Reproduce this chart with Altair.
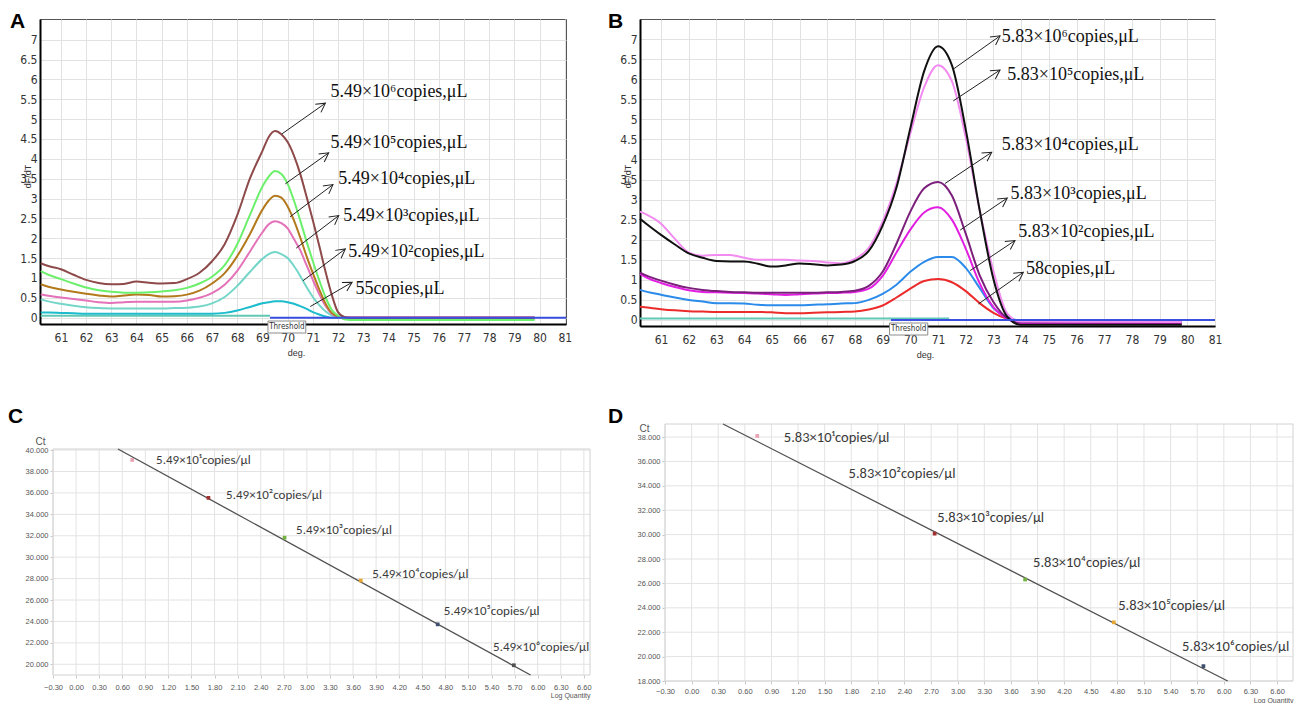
import math
import altair as alt
import pandas as pd

NARROW = "Liberation Sans Narrow, DejaVu Sans Condensed, Liberation Sans, sans-serif"
SANS = "Liberation Sans, Arial, sans-serif"
SERIF = "Liberation Serif, Times New Roman, serif"
CAL = "Carlito, Lato, sans-serif"

DEG_TICKS = list(range(61, 82))
DFDT_TICKS = [0, 0.5, 1, 1.5, 2, 2.5, 3, 3.5, 4, 4.5, 5, 5.5, 6, 6.5, 7]
LOGQ_TICKS = [-0.3, 0.0, 0.3, 0.6, 0.9, 1.2, 1.5, 1.8, 2.1, 2.4, 2.7, 3.0, 3.3, 3.6,
              3.9, 4.2, 4.5, 4.8, 5.1, 5.4, 5.7, 6.0, 6.3, 6.6]
CT_TICKS_C = [20, 22, 24, 26, 28, 30, 32, 34, 36, 38, 40]
CT_TICKS_D = [18, 20, 22, 24, 26, 28, 30, 32, 34, 36, 38]

# ---------------- Panel A : melt curves, 5.49 x 10^n standards ----------------
A_X = [60.2, 60.5, 61, 61.5, 62, 62.5, 63, 63.5, 64, 64.5, 65, 65.5, 66, 66.5, 67,
       67.5, 68, 68.5, 69, 69.25, 69.5, 69.75, 70, 70.25, 70.5, 70.75, 71, 71.25,
       71.5, 71.75, 72, 72.25, 72.5, 79.8]
A_E6 = [1.37, 1.30, 1.22, 1.08, 0.95, 0.87, 0.84, 0.85, 0.91, 0.88, 0.86, 0.87, 0.97, 1.13, 1.42,
        1.85, 2.58, 3.50, 4.20, 4.55, 4.70, 4.62, 4.42, 4.08, 3.62, 3.05, 2.45, 1.82,
        1.17, 0.58, 0.14, 0.02, 0.00, 0.00]
A_E5 = [1.17, 1.08, 0.97, 0.86, 0.76, 0.69, 0.65, 0.63, 0.63, 0.64, 0.66, 0.69, 0.75, 0.86, 1.03,
        1.32, 1.85, 2.58, 3.30, 3.55, 3.69, 3.62, 3.37, 2.95, 2.45, 1.92, 1.42, 0.95,
        0.52, 0.20, 0.05, -0.04, -0.06, -0.06]
A_E4 = [0.84, 0.78, 0.71, 0.65, 0.60, 0.56, 0.53, 0.56, 0.58, 0.57, 0.53, 0.54, 0.58, 0.68, 0.86,
        1.12, 1.55, 2.10, 2.72, 2.95, 3.07, 3.02, 2.80, 2.45, 2.02, 1.55, 1.12, 0.72,
        0.36, 0.12, 0.03, -0.02, -0.03, -0.03]
A_E3 = [0.59, 0.55, 0.51, 0.47, 0.43, 0.39, 0.37, 0.39, 0.40, 0.40, 0.40, 0.40, 0.43, 0.50, 0.62,
        0.83, 1.18, 1.66, 2.15, 2.35, 2.43, 2.38, 2.25, 1.98, 1.70, 1.32, 0.95, 0.60,
        0.30, 0.10, 0.03, 0.01, 0.01, 0.01]
A_E2 = [0.46, 0.41, 0.35, 0.30, 0.26, 0.24, 0.23, 0.23, 0.23, 0.23, 0.23, 0.24, 0.25, 0.28, 0.36,
        0.52, 0.80, 1.15, 1.48, 1.60, 1.65, 1.60, 1.50, 1.30, 1.05, 0.77, 0.52, 0.32,
        0.16, 0.06, 0.01, -0.03, -0.04, -0.04]
A_E1 = [0.13, 0.13, 0.12, 0.11, 0.10, 0.10, 0.10, 0.10, 0.10, 0.10, 0.10, 0.10, 0.10, 0.10, 0.10,
        0.12, 0.18, 0.27, 0.36, 0.39, 0.41, 0.41, 0.39, 0.35, 0.29, 0.22, 0.14, 0.08,
        0.03, 0.00, 0.00, 0.00, 0.00, 0.00]
A_COLORS = ["#8e4a4a", "#6cf06c", "#b27a1c", "#e472b8", "#74d6c8", "#1cbccc"]
A_FLAT_X = [60.2, 69.3]
A_FLAT_Y = [0.05, 0.05]
A_THR_X = [69.3, 81.05]
A_THR_Y = [0.0, 0.0]
A_BOX = [69.22, 70.72]
A_LAB_T = ["5.49×10⁶copies,μL", "5.49×10⁵copies,μL", "5.49×10⁴copies,μL",
           "5.49×10³copies,μL", "5.49×10²copies,μL", "55copies,μL"]
A_LAB_X = [71.70, 71.70, 72.01, 72.21, 72.41, 72.69]
A_LAB_Y = [5.67, 4.41, 3.50, 2.57, 1.66, 0.71]
A_ARR_X1 = [69.78, 69.91, 70.10, 70.34, 70.61, 70.90]
A_ARR_Y1 = [4.63, 3.37, 2.54, 1.75, 0.93, 0.28]
A_ARR_X2 = [71.50, 71.63, 71.80, 72.03, 72.29, 72.56]
A_ARR_Y2 = [5.40, 4.15, 3.35, 2.57, 1.73, 0.89]

# ---------------- Panel B : melt curves, 5.83 x 10^n standards ----------------
B_X = [60.24, 60.5, 61, 61.5, 62, 62.5, 63, 63.5, 64, 64.5, 65, 65.5, 66, 66.5, 67,
       67.5, 68, 68.5, 69, 69.5, 70, 70.5, 71, 71.5, 72, 72.5, 73, 73.5, 74, 79.8]
B_E6 = [2.52, 2.38, 2.12, 1.88, 1.66, 1.55, 1.47, 1.46, 1.46, 1.40, 1.33, 1.36, 1.41, 1.39, 1.36,
        1.38, 1.47, 1.72, 2.35, 3.30, 4.78, 6.20, 6.82, 6.35, 4.75, 2.75, 1.02, 0.08, -0.12, -0.12]
B_E5 = [2.70, 2.62, 2.40, 2.02, 1.68, 1.60, 1.62, 1.62, 1.55, 1.50, 1.50, 1.50, 1.48, 1.47, 1.43,
        1.41, 1.52, 1.80, 2.45, 3.40, 4.65, 5.80, 6.35, 5.95, 4.55, 2.75, 1.22, 0.16, -0.04, -0.05]
B_E4 = [1.18, 1.10, 0.98, 0.88, 0.80, 0.75, 0.72, 0.70, 0.69, 0.68, 0.68, 0.68, 0.68, 0.68, 0.69,
        0.70, 0.73, 0.85, 1.20, 1.90, 2.70, 3.28, 3.44, 3.10, 2.15, 1.12, 0.45, 0.05, -0.05, -0.06]
B_E3 = [1.15, 1.05, 0.92, 0.82, 0.74, 0.70, 0.69, 0.68, 0.67, 0.66, 0.64, 0.62, 0.64, 0.66, 0.67,
        0.68, 0.70, 0.78, 1.10, 1.68, 2.25, 2.68, 2.81, 2.50, 1.78, 0.92, 0.32, 0.03, -0.08, -0.10]
B_E2 = [0.75, 0.70, 0.63, 0.56, 0.50, 0.46, 0.42, 0.42, 0.41, 0.38, 0.37, 0.37, 0.37, 0.38, 0.39,
        0.41, 0.42, 0.50, 0.65, 0.88, 1.20, 1.45, 1.57, 1.57, 1.30, 0.80, 0.30, 0.07, -0.02, -0.02]
B_E1 = [0.33, 0.31, 0.27, 0.24, 0.22, 0.21, 0.20, 0.20, 0.20, 0.20, 0.19, 0.17, 0.17, 0.18, 0.19,
        0.20, 0.21, 0.26, 0.36, 0.56, 0.78, 0.97, 1.02, 0.94, 0.72, 0.42, 0.18, 0.03, -0.02, -0.03]
B_COLORS = ["#111111", "#f28cf0", "#7b1f7b", "#e21ee2", "#2b8bea", "#ec2b2b"]
B_FLAT_X = [60.24, 71.4]
B_FLAT_Y = [0.04, 0.04]
B_THR_X = [69.3, 81.0]
B_THR_Y = [0.0, 0.0]
B_BOX = [69.25, 70.63]
B_LAB_T = ["5.83×10⁶copies,μL", "5.83×10⁵copies,μL", "5.83×10⁴copies,μL",
           "5.83×10³copies,μL", "5.83×10²copies,μL", "58copies,μL"]
B_LAB_X = [73.30, 73.50, 73.30, 73.62, 73.90, 74.18]
B_LAB_Y = [7.06, 6.11, 4.37, 3.14, 2.18, 1.27]
B_ARR_X1 = [71.55, 71.55, 71.25, 71.80, 72.16, 72.46]
B_ARR_Y1 = [6.25, 5.46, 3.40, 2.24, 1.23, 0.40]
B_ARR_X2 = [73.24, 73.24, 72.94, 73.50, 73.78, 74.08]
B_ARR_Y2 = [7.08, 6.23, 4.18, 3.04, 1.98, 1.19]

# ---------------- Panel C : standard curve 5.49 x 10^n ----------------
C_PX = [0.73, 1.72, 2.71, 3.70, 4.70, 5.69]
C_CT = [39.08, 35.54, 31.82, 27.82, 23.73, 19.91]
C_PCOL = ["#e8a4b4", "#a03232", "#74b244", "#e6a832", "#40506e", "#505050"]
C_FIT = [-3.934, 42.24]  # slope, intercept
C_LAB_T = ["5.49×10¹copies/μl", "5.49×10²copies/μl", "5.49×10³copies/μl",
           "5.49×10⁴copies/μl", "5.49×10⁵copies/μl", "5.49×10⁶copies/μl"]
C_LAB_X = [1.04, 1.95, 2.86, 3.85, 4.78, 5.42]
C_LAB_Y = [39.07, 35.82, 32.57, 28.47, 24.94, 21.59]

# ---------------- Panel D : standard curve 5.83 x 10^n ----------------
D_PX = [0.74, 2.74, 3.76, 4.76, 5.77]
D_CT = [38.09, 30.08, 26.32, 22.81, 19.22]
D_PCOL = ["#f0b032", "#a6c4e4", "#8494a8", "#a04040", "#c88484"]
D_FIT = [-3.703, 40.38]
D_LAB_T = ["5.83×10¹copies/μl", "5.83×10²copies/μl", "5.83×10³copies/μl",
           "5.83×10⁴copies/μl", "5.83×10⁵copies/μl", "5.83×10⁶copies/μl"]
D_LAB_X = [1.04, 1.77, 2.77, 3.85, 4.81, 5.53]
D_LAB_Y = [37.93, 34.98, 31.38, 27.71, 24.11, 20.77]

ARROW_PATH = "M-1,-0.55L0,0L-1,0.55"


def letter_layer(t, dx, dy):
    return alt.Chart(pd.DataFrame({"t": [t]})).mark_text(
        align="left", baseline="alphabetic", font=SANS, fontSize=21,
        fontWeight="bold", color="#000000"
    ).encode(x=alt.value(dx), y=alt.value(dy), text="t:N")


def melt_panel(letter, letter_xy, W, H, xdom, ydom, xs, curves, colors, flat, thr,
               box, arr, labs, deg_x):
    xsc = alt.Scale(domain=xdom, nice=False, zero=False)
    ysc = alt.Scale(domain=ydom, nice=False, zero=False)
    xax = alt.Axis(values=DEG_TICKS, grid=True, gridColor="#e2e2e2", domainColor="#000000",
                   domainWidth=2, ticks=False, labelFont=NARROW, labelFontSize=12,
                   labelColor="#333333", labelPadding=8, labelFlush=False, labelOverlap=False,
                   title="deg.", titleFont=SANS, titleFontSize=9, titleFontWeight="normal",
                   titleColor="#333333", titleX=deg_x, titleY=28, titleAlign="center",
                   titleBaseline="middle")
    yax = alt.Axis(values=DFDT_TICKS, format="~g", grid=True, gridColor="#e2e2e2",
                   domainColor="#000000", domainWidth=2, ticks=False, labelFont=NARROW,
                   labelFontSize=12, labelColor="#333333", labelPadding=3, labelOverlap=False,
                   labelFlush=False, title="dF/dT", titleFont=SANS, titleFontSize=9,
                   titleFontWeight="normal", titleColor="#333333", titleAngle=270,
                   titleX=-13, titleY=157, titleAlign="center", titleBaseline="middle")

    def X(f):
        return alt.X(f + ":Q", scale=xsc, axis=xax)

    def Y(f):
        return alt.Y(f + ":Q", scale=ysc, axis=yax)

    layers = []
    fx, fy = flat
    layers.append(alt.Chart(pd.DataFrame({"x": fx, "y": fy})).mark_line(
        color="#62c8b6", strokeWidth=2).encode(x=X("x"), y=Y("y")))
    for ys, col in reversed(list(zip(curves, colors))):
        layers.append(alt.Chart(pd.DataFrame({"x": xs, "y": ys})).mark_line(
            color=col, strokeWidth=2, interpolate="monotone").encode(x=X("x"), y=Y("y")))
    tx, ty = thr
    layers.append(alt.Chart(pd.DataFrame({"x": tx, "y": ty})).mark_line(
        color="#3a4fe0", strokeWidth=2).encode(x=X("x"), y=Y("y")))
    bdf = pd.DataFrame({"x": [box[0]], "x2": [box[1]], "xm": [(box[0] + box[1]) / 2],
                        "t": ["Threshold"]})
    layers.append(alt.Chart(bdf).mark_rect(fill="#ffffff", stroke="#8c8c8c", strokeWidth=1).encode(
        x=X("x"), x2=alt.X2("x2"), y=alt.value(H - 3), y2=alt.value(H + 9)))
    layers.append(alt.Chart(bdf).mark_text(font=NARROW, fontSize=8, color="#333333").encode(
        x=X("xm"), y=alt.value(H + 3), text="t:N"))
    x1, y1, x2, y2 = arr
    pxu = W / (xdom[1] - xdom[0])
    pyu = H / (ydom[1] - ydom[0])
    ang = [math.degrees(math.atan2(-(b2 - b1) * pyu, (a2 - a1) * pxu)) % 360
           for a1, b1, a2, b2 in zip(x1, y1, x2, y2)]
    adf = pd.DataFrame({"x": x1, "y": y1, "x2": x2, "y2": y2, "ang": ang})
    layers.append(alt.Chart(adf).mark_rule(color="#222222", strokeWidth=1).encode(
        x=X("x"), y=Y("y"), x2=alt.X2("x2"), y2=alt.Y2("y2")))
    layers.append(alt.Chart(adf).mark_point(shape=ARROW_PATH, filled=False, size=320,
                                            color="#222222", strokeWidth=1, opacity=1).encode(
        x=X("x2"), y=Y("y2"), angle=alt.Angle("ang:Q", scale=None)))
    lx, ly, lt = labs
    layers.append(alt.Chart(pd.DataFrame({"x": lx, "y": ly, "t": lt})).mark_text(
        align="left", baseline="middle", font=SERIF, fontSize=18, color="#111111").encode(
        x=X("x"), y=Y("y"), text="t:N"))
    layers.append(letter_layer(letter, *letter_xy))
    return alt.layer(*layers).properties(
        width=W, height=H, view=alt.ViewBackground(stroke="#555555", strokeWidth=1))


def std_panel(letter, letter_xy, W, H, x0, y0, xdom, ydom, yticks, px, py, pcol, fit, labs,
              ct_xy, lq_y, xpad, lab_size):
    # plot area occupies [x0, W] x [y0, H] inside its cell
    xsc = alt.Scale(domain=xdom, range=[x0, W], nice=False, zero=False)
    ysc = alt.Scale(domain=ydom, range=[H, y0], nice=False, zero=False)
    xax = alt.Axis(values=LOGQ_TICKS, format=".2f", grid=False,
                   domain=False, ticks=True, tickColor="#c8c8c8", tickSize=3,
                   labelFont=SANS, labelFontSize=7.5, labelColor="#555555",
                   labelPadding=xpad, labelFlush=False, labelOverlap=False,
                   title="Log Quantity", titleFont=SANS, titleFontSize=7,
                   titleFontWeight="normal", titleColor="#555555", titleX=W, titleY=lq_y,
                   titleAlign="right", titleBaseline="middle")
    yax = alt.Axis(values=yticks, format=".3f", grid=False,
                   domain=False, ticks=True, tickColor="#c8c8c8", tickSize=3, offset=-x0,
                   labelFont=SANS, labelFontSize=7.5, labelColor="#555555", labelPadding=2,
                   labelOverlap=False, labelFlush=False, title="Ct", titleFont=SANS,
                   titleFontSize=10, titleFontWeight="normal", titleColor="#555555",
                   titleAngle=0, titleX=ct_xy[0], titleY=ct_xy[1], titleAlign="left",
                   titleBaseline="middle")

    def X(f):
        return alt.X(f + ":Q", scale=xsc, axis=xax)

    def Y(f):
        return alt.Y(f + ":Q", scale=ysc, axis=yax)

    slope, icpt = fit
    xs_top = max(xdom[0], (ydom[1] - icpt) / slope)
    xs_bot = min(xdom[1], (ydom[0] - icpt) / slope)
    fdf = pd.DataFrame({"x": [xs_top, xs_bot],
                        "y": [slope * xs_top + icpt, slope * xs_bot + icpt]})
    frame = pd.DataFrame({"x": [xdom[0]], "x2": [xdom[1]], "y": [ydom[0]], "y2": [ydom[1]]})
    vgrid = pd.DataFrame({"x": LOGQ_TICKS, "y": ydom[0], "y2": ydom[1]})
    hgrid = pd.DataFrame({"y": yticks, "x": xdom[0], "x2": xdom[1]})
    ids = [str(i) for i in range(len(px))]
    layers = [
        alt.Chart(vgrid).mark_rule(color="#e3e3e3", strokeWidth=1).encode(
            x=X("x"), y=Y("y"), y2=alt.Y2("y2")),
        alt.Chart(hgrid).mark_rule(color="#e3e3e3", strokeWidth=1).encode(
            y=Y("y"), x=X("x"), x2=alt.X2("x2")),
        alt.Chart(frame).mark_rect(fillOpacity=0, stroke="#d2d2d2", strokeWidth=1).encode(
            x=X("x"), x2=alt.X2("x2"), y=Y("y"), y2=alt.Y2("y2")),
        alt.Chart(fdf).mark_line(color="#505050", strokeWidth=1.3).encode(
            x=X("x"), y=Y("y")),
        alt.Chart(pd.DataFrame({"x": px, "y": py, "c": ids}))
        .mark_point(filled=True, size=14, shape="square", opacity=1).encode(
            x=X("x"), y=Y("y"),
            color=alt.Color("c:N", scale=alt.Scale(domain=ids, range=pcol), legend=None)),
        alt.Chart(pd.DataFrame({"x": labs[0], "y": labs[1], "t": labs[2]})).mark_text(
            align="left", baseline="middle", font=CAL, fontSize=lab_size,
            color="#3a3a3a").encode(x=X("x"), y=Y("y"), text="t:N"),
        letter_layer(letter, *letter_xy),
    ]
    return alt.layer(*layers).properties(width=W, height=H)


A = melt_panel("A", (-30, 9), 526, 305, [60.17, 81.05], [-0.16, 7.52], A_X,
               [A_E6, A_E5, A_E4, A_E3, A_E2, A_E1], A_COLORS, (A_FLAT_X, A_FLAT_Y),
               (A_THR_X, A_THR_Y), A_BOX, (A_ARR_X1, A_ARR_Y1, A_ARR_X2, A_ARR_Y2),
               (A_LAB_X, A_LAB_Y, A_LAB_T), 256)
B = melt_panel("B", (-32, 9), 575, 307, [60.24, 81.0], [-0.15, 7.5], B_X,
               [B_E6, B_E5, B_E4, B_E3, B_E2, B_E1], B_COLORS, (B_FLAT_X, B_FLAT_Y),
               (B_THR_X, B_THR_Y), B_BOX, (B_ARR_X1, B_ARR_Y1, B_ARR_X2, B_ARR_Y2),
               (B_LAB_X, B_LAB_Y, B_LAB_T), 285)
C = std_panel("C", (-32, -1), 550, 251, 13, 25, [-0.3, 6.68], [19.0, 40.1], CT_TICKS_C,
              C_PX, C_CT, C_PCOL, C_FIT, (C_LAB_X, C_LAB_Y, C_LAB_T), (-18, 17), 20, 5, 13)
D = std_panel("D", (-32, -1), 653, 257, 25, 0, [-0.3, 6.78], [18.0, 39.07], CT_TICKS_D,
              D_PX, D_CT, D_PCOL, D_FIT, (D_LAB_X, D_LAB_Y, D_LAB_T), (-26, 4), 19, 3, 14.5)

chart = alt.concat(A, B, C, D, columns=2, spacing={"row": 98, "column": 50},
                   bounds="flush").properties(
    padding={"left": 0, "top": 2, "right": 0, "bottom": 0}
).configure_view(strokeWidth=0)

chart.save("out.html", embed_options={"renderer": "svg", "actions": False})
